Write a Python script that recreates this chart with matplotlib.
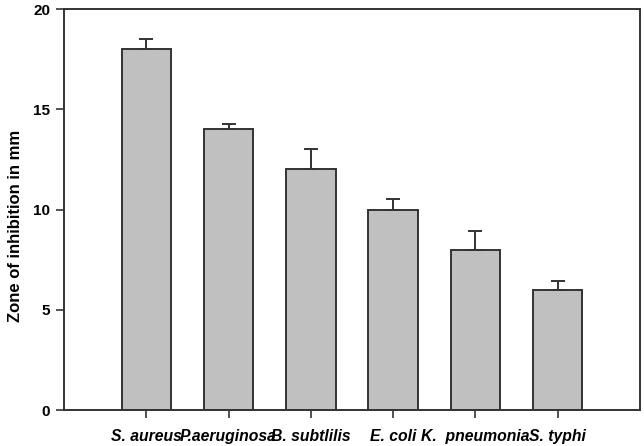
import matplotlib.pyplot as plt

plt.rcParams['font.family'] = ['Liberation Sans', 'DejaVu Sans']

ORGANISMS = ["S. aureus", "P.aeruginosa", "B. subtlilis", "E. coli", "K.  pneumonia", "S. typhi"]
ZONE_MM = [18.0, 14.0, 12.0, 10.0, 8.0, 6.0]
ZONE_ERR = [0.5, 0.25, 1.0, 0.5, 0.95, 0.45]

EDGE = "#333333"


def plot_results():
    fig = plt.figure(figsize=(6.44, 4.46), dpi=100)
    ax = fig.add_axes([0.0994, 0.0807, 0.8944, 0.8991])

    pos = range(len(ORGANISMS))
    ax.bar(
        pos, ZONE_MM, 0.6,
        color="#c0c0c0", edgecolor=EDGE, linewidth=1.4,
        yerr=[[0] * len(ZONE_ERR), ZONE_ERR],
        error_kw=dict(ecolor=EDGE, elinewidth=1.4, capsize=5, capthick=1.4),
    )

    ax.set_xlim(-1, 6)
    ax.set_ylim(0, 20)
    ax.set_yticks([0, 5, 10, 15, 20])
    ax.set_xticks(list(pos))
    ax.set_xticklabels(ORGANISMS, fontsize=11.3, fontweight='bold', fontstyle='italic')
    for lbl in ax.get_yticklabels():
        lbl.set_fontsize(11)
        lbl.set_fontweight('bold')
    ax.set_ylabel("Zone of inhibition in mm", fontsize=12, fontweight='bold')
    # label sits a bit below the axis middle in the original
    ax.yaxis.set_label_coords(-0.072, 0.46)

    for sp in ax.spines.values():
        sp.set_color(EDGE)
        sp.set_linewidth(1.4)
    ax.tick_params(direction='out', length=6, width=1.2, color=EDGE)
    ax.tick_params(axis='x', pad=8)
    ax.tick_params(axis='y', pad=4)

    fig.savefig("out.png", dpi=100)


plot_results()
